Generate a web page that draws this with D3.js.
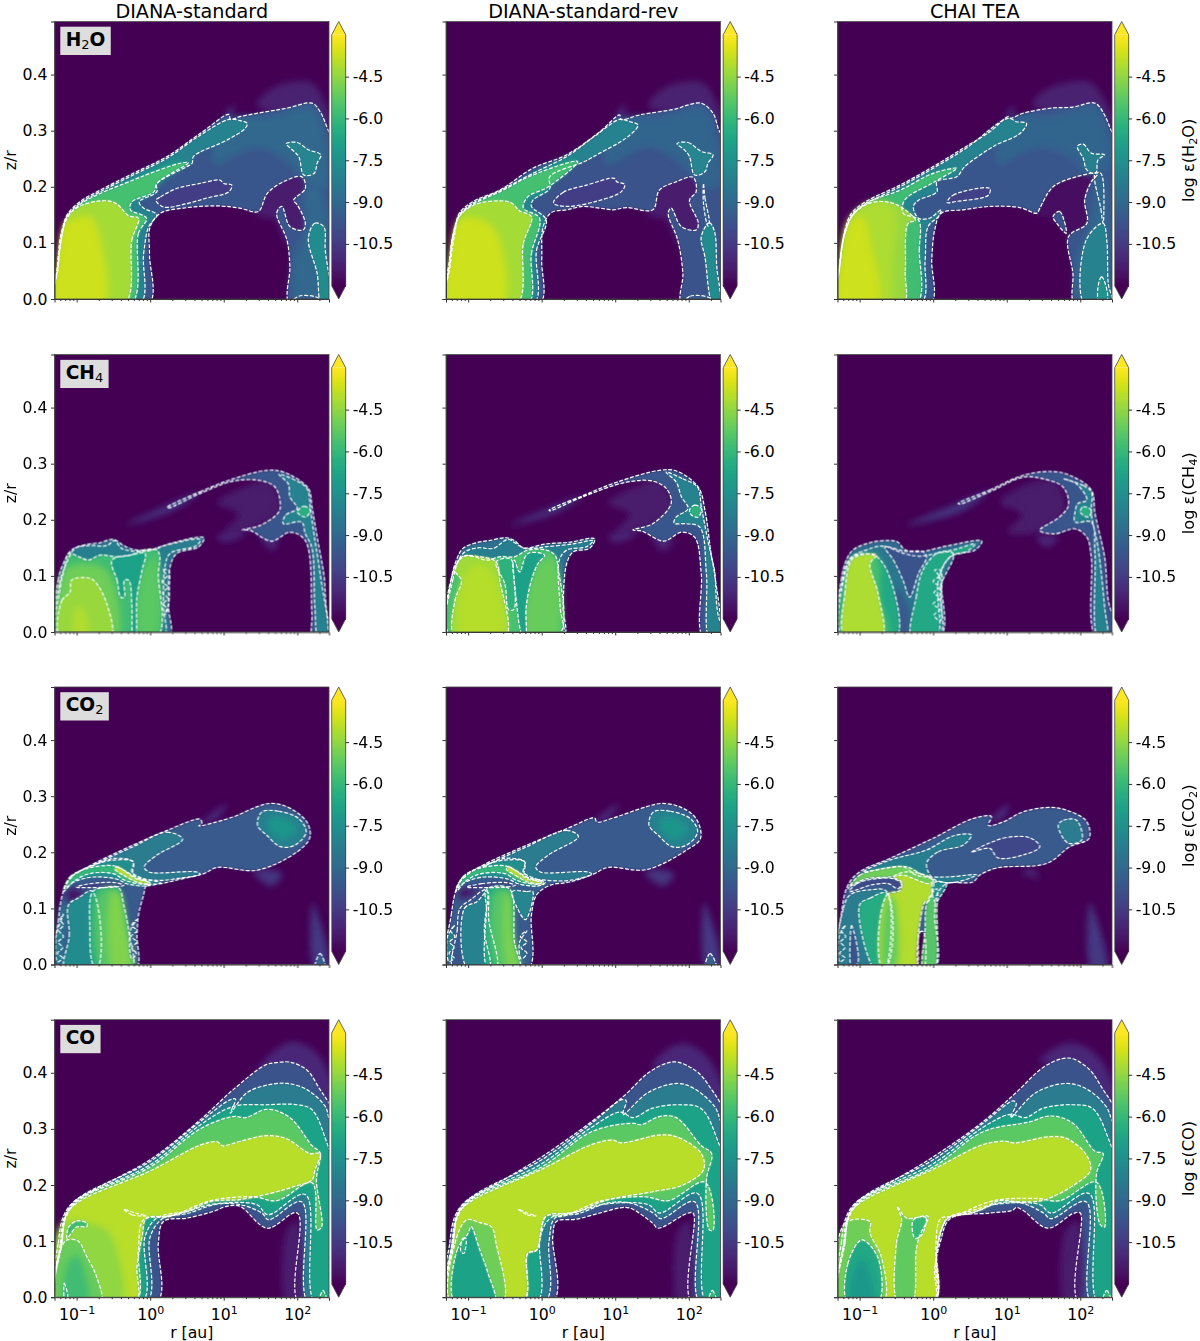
<!DOCTYPE html>
<meta charset="utf-8">
<title>Disk abundance maps</title>
<style>
body { margin: 0; background: #fff; }
text { font-family: "DejaVu Sans", sans-serif; fill: #000; }
.tick line, .domain { stroke: #333; }
.tick text { font-size: 15.7px; }
</style>
<body>
<div id="chart"></div>
<script src="https://cdn.jsdelivr.net/npm/d3@7"></script>
<script>

// labels
const networks = ["DIANA-standard", "DIANA-standard-rev", "CHAI TEA"];
const molecules = [["H", "2", "O"], ["CH", "4", ""], ["CO", "2", ""], ["CO", "", ""]];
const zTicks = [0, 0.1, 0.2, 0.3, 0.4];
const rTicks = [0.1, 1, 10, 100];
const rTickExp = ["\u22121", "0", "1", "2"];
const rMinor = [0.06, 0.07, 0.08, 0.09, 0.2, 0.3, 0.4, 0.5, 0.6, 0.7, 0.8, 0.9, 2, 3, 4, 5, 6, 7, 8, 9, 20, 30, 40, 50, 60, 70, 80, 90, 200];
const cbarTicks = [-4.5, -6.0, -7.5, -9.0, -10.5];

// each layer: [contour level or null, log eps shown inside, [[log10 r, z/r], ...]]
const h2oStandard = [
  [null, -11.2, [[1.45,.345],[1.6,.37],[1.85,.385],[2.2,.385],[2.38,.35],[2.55,.29],[2.3,.32],[1.8,.33]]],
  [null, -10.6, [[1.02,.325],[1.13,.345],[1.1,.32]]],
  [null, -11.3, [[1.45,.15],[1.6,.2],[2.1,.22],[2.15,.12],[1.85,.1],[1.7,.14]]],
  [-10, -9.6, [[-1.28,-.01],[-1.25,.058],[-1.2,.117],[-1.13,.15],[-.95,.174],[-.68,.194],[-.23,.224],[.23,.254],[.68,.295],[1.07,.329],[1.09,.32],[1.22,.325],[1.59,.334],[1.86,.34],[2.2,.349],[2.31,.334],[2.43,.298],[2.6,.25],[2.6,-.01],[1.9,-.01],[1.9,.058],[1.86,.105],[1.72,.153],[1.79,.165],[1.9,.129],[2.08,.123],[2.11,.135],[2,.168],[1.95,.176],[2.11,.197],[2.06,.218],[1.81,.209],[1.59,.188],[1.47,.156],[1.22,.162],[.91,.166],[.45,.162],[.14,.153],[0,.129],[-.01,.08],[-.02,-.01]]],
  [null, -9, [[.85,.27],[1.07,.32],[1.6,.325],[2.2,.34],[2.35,.3],[2.4,.2],[2.2,.2],[1.9,.24],[1.5,.27],[1.2,.26],[.9,.24]]],
  [null, -9, [[2.12,.2],[2.3,.2],[2.45,0],[2.45,-.01],[2,-.01],[1.95,.07],[2.1,.12]]],
  [-10, -10.4, [[.08,.176],[.14,.182],[.36,.197],[.68,.206],[.95,.212],[1,.206],[1.11,.203],[1.07,.191],[.77,.18],[.5,.17],[.18,.164]]],
  [-8, -8, [[-.14,-.01],[-.09,.08],[-.02,.129],[.09,.15],[-.09,.162],[-.15,.173],[.09,.191],[.09,.205],[.5,.236],[.57,.242],[.59,.254],[1.04,.283],[1.29,.304],[1.32,.313],[1.22,.318],[1.07,.32],[.68,.292],[.23,.251],[-.23,.221],[-.68,.191],[-.95,.171],[-1.13,.147],[-1.2,.114],[-1.25,.058],[-1.27,-.01]]],
  [null, -7, [[-.3,.2],[.1,.235],[.45,.245],[.1,.205],[-.15,.18]]],
  [-6, -5.7, [[-.26,-.01],[-.16,.117],[-.05,.144],[-.27,.159],[-.25,.173],[.05,.191],[.09,.206],[.52,.243],[.41,.242],[0,.224],[-.23,.212],[-.68,.188],[-.95,.169],[-1.13,.144],[-1.21,.105],[-1.26,.058],[-1.28,-.01]]],
  [-4, -4.2, [[-.35,-.01],[-.25,.105],[-.16,.144],[-.29,.148],[-.45,.169],[-.59,.175],[-.91,.168],[-1.11,.15],[-1.21,.117],[-1.26,.058],[-1.28,-.01]]],
  [null, -3.7, [[-1.27,-.01],[-1.24,.08],[-1.15,.135],[-1,.145],[-.8,.145],[-.65,.09],[-.63,-.01]]],
  [-8, -7.9, [[1.85,.277],[2,.279],[2.15,.266],[2.32,.257],[2.27,.242],[2.23,.224],[2.09,.221],[2.02,.254],[1.93,.266]]],
  [-8, -7.7, [[2.15,.108],[2.24,.135],[2.36,.129],[2.38,.087],[2.45,-.01],[2.33,-.01],[2.27,.046]]],
  [-8, -9.5, [[1.9,-.01],[2.02,.005],[2.3,.001],[2.33,-.01]]]
];
const h2oRev = [
  [null, -11.2, [[1.45,.345],[1.6,.37],[1.85,.385],[2.2,.385],[2.38,.35],[2.55,.29],[2.3,.32],[1.8,.33]]],
  [null, -10.6, [[1.02,.325],[1.13,.345],[1.1,.32]]],
  [null, -11.3, [[1.45,.15],[1.6,.2],[2.1,.22],[2.15,.12],[1.85,.1],[1.7,.14]]],
  [-10, -9.7, [[-1.28,-.01],[-1.25,.07],[-1.18,.123],[-1.12,.153],[-.93,.174],[-.57,.194],[-.12,.233],[.34,.257],[.79,.298],[1.06,.328],[1.08,.32],[1.33,.328],[1.83,.339],[1.97,.345],[2.17,.349],[2.33,.331],[2.42,.298],[2.6,.266],[2.6,-.01],[1.91,-.01],[1.92,.046],[1.85,.105],[1.72,.153],[1.76,.162],[1.9,.129],[2.1,.123],[2.13,.135],[2.01,.176],[2.1,.191],[2.06,.217],[1.83,.209],[1.6,.194],[1.51,.159],[1.15,.163],[.97,.159],[.79,.162],[.56,.165],[.34,.159],[.13,.154],[.02,.129],[0,.07],[-.03,-.01]]],
  [null, -9.1, [[.85,.27],[1.07,.32],[1.6,.325],[2.2,.34],[2.35,.3],[2.4,.2],[2.2,.2],[1.9,.24],[1.5,.27],[1.2,.26],[.9,.24]]],
  [-10, -10.4, [[.16,.171],[.29,.19],[.61,.203],[.99,.215],[1.02,.209],[1.13,.204],[1.08,.191],[.74,.174],[.34,.165]]],
  [-8, -8, [[-.11,-.01],[-.07,.087],[.06,.141],[-.14,.165],[-.12,.176],[.11,.197],[.11,.218],[.58,.245],[.79,.26],[1.17,.289],[1.31,.31],[1.2,.316],[1.06,.32],[.74,.292],[.34,.254],[-.12,.224],[-.57,.193],[-.93,.171],[-1.12,.15],[-1.18,.117],[-1.24,.064],[-1.27,-.01]]],
  [null, -7, [[-.3,.2],[.1,.235],[.45,.25],[.15,.21],[-.1,.185]]],
  [-6, -5.7, [[-.19,-.01],[-.14,.081],[-.03,.144],[-.25,.162],[-.19,.182],[.09,.2],[.49,.245],[-.12,.221],[-.57,.191],[-.93,.169],[-1.12,.148],[-1.21,.111],[-1.25,.058],[-1.28,-.01]]],
  [-4, -4.2, [[-.34,-.01],[-.25,.099],[-.14,.147],[-.3,.157],[-.41,.171],[-.57,.175],[-.91,.168],[-1.12,.147],[-1.21,.111],[-1.26,.058],[-1.28,-.01]]],
  [null, -3.7, [[-1.28,-.01],[-1.24,.08],[-1.12,.14],[-.95,.145],[-.72,.135],[-.56,.1],[-.53,-.01]]],
  [-8, -7.9, [[1.84,.277],[1.99,.279],[2.17,.263],[2.33,.257],[2.26,.242],[2.22,.227],[2.08,.221],[2.01,.254],[1.94,.266]]],
  [-8, -7.7, [[2.17,.111],[2.28,.136],[2.35,.12],[2.38,.058],[2.42,-.01],[2.33,-.01],[2.22,.075]]],
  [-8, -9, [[2.2,.206],[2.22,.18],[2.28,.136],[2.26,.13],[2.2,.17]]],
  [-8, -9.5, [[1.91,-.01],[2.02,.005],[2.3,.001],[2.33,-.01]]]
];
const h2oChai = [
  [null, -11.2, [[1.35,.345],[1.5,.37],[1.8,.385],[2.15,.385],[2.35,.35],[2.55,.29],[2.3,.32],[1.8,.33]]],
  [null, -10.6, [[1,.325],[1.1,.345],[1.06,.32]]],
  [null, -11.7, [[1.4,.15],[1.6,.2],[2.2,.225],[2.15,.12],[1.85,.1],[1.7,.14]]],
  [-10, -9.6, [[-1.29,-.01],[-1.26,.07],[-1.2,.123],[-1.11,.153],[-.91,.174],[-.45,.203],[0,.236],[.45,.272],[.77,.298],[1.02,.325],[1.05,.322],[1.22,.331],[1.59,.34],[1.9,.342],[2.2,.349],[2.33,.328],[2.43,.298],[2.6,.26],[2.6,-.01],[1.93,-.01],[1.9,.046],[1.84,.111],[2.09,.135],[2.06,.176],[2.15,.209],[2.24,.224],[1.95,.218],[1.63,.2],[1.45,.162],[1.41,.153],[1.18,.163],[.77,.165],[.41,.159],[.11,.153],[.02,.123],[-.02,.07],[-.04,-.01]]],
  [null, -9.1, [[.85,.27],[1.07,.32],[1.6,.325],[2.2,.34],[2.35,.3],[2.4,.24],[2.1,.22],[1.9,.25],[1.5,.27],[1.2,.26],[.9,.24]]],
  [null, -9, [[2.1,.12],[2.3,.22],[2.45,0],[2.45,-.01],[2,-.01],[1.95,.07]]],
  [-10, -9.7, [[1.63,.147],[1.72,.156],[1.81,.117],[1.68,.135]]],
  [-10, -10.3, [[.19,.172],[.27,.185],[.77,.197],[.75,.185],[.32,.174]]],
  [-8, -8, [[-.17,-.01],[-.11,.07],[-.07,.129],[.07,.147],[.11,.159],[-.05,.144],[-.2,.144],[-.27,.165],[-.2,.176],[.05,.191],[.05,.209],[.32,.218],[.43,.236],[.82,.272],[1.18,.295],[1.27,.313],[1.13,.316],[1.02,.322],[.45,.269],[0,.233],[-.45,.2],[-.91,.17],[-1.09,.152],[-1.2,.12],[-1.27,.065],[-1.29,-.01]]],
  [-6, -5.8, [[-.23,-.01],[-.19,.087],[-.2,.141],[-.41,.153],[-.39,.176],[.02,.209],[.32,.233],[0,.224],[-.45,.194],[-.91,.171],[-1.09,.15],[-1.2,.117],[-1.27,.058],[-1.28,-.01]]],
  [-4, -4.4, [[-.41,-.01],[-.38,.05],[-.34,.135],[-.24,.14],[-.45,.165],[-.63,.173],[-.86,.171],[-1.09,.15],[-1.2,.117],[-1.27,.058],[-1.29,-.01]]],
  [null, -4.1, [[-1.28,-.01],[-1.27,.058],[-1.2,.117],[-1.09,.15],[-.86,.171],[-.63,.173],[-.5,.15],[-.55,.06],[-.6,-.01]]],
  [null, -3.7, [[-1.28,-.01],[-1.24,.08],[-1.12,.14],[-.95,.145],[-.85,.1],[-.75,-.01]]],
  [-8, -8.1, [[1.96,.272],[2.04,.276],[2.15,.26],[2.33,.257],[2.24,.248],[2.21,.224],[2.09,.23],[2.04,.251]]],
  [-8, -8, [[2.08,.105],[2.31,.135],[2.36,.105],[2.38,.028],[2.43,-.01],[2.06,-.01]]],
  [-8, -9, [[2.2,.224],[2.28,.16],[2.31,.135],[2.32,.15],[2.28,.224]]],
  [-6, -7.4, [[2.24,.02],[2.29,.04],[2.37,.01],[2.35,-.01],[2.26,-.01]]]
];

const ch4Standard = [
  [null, -10.5, [[-.34,.191],[.23,.226],[.68,.25],[.32,.217]]],
  [null, -11.4, [[.9,.23],[1.3,.26],[1.6,.27],[1.78,.22],[1.4,.185],[1,.178],[1.2,.21]]],
  [null, -11, [[.9,.17],[1.2,.18],[1.3,.175],[1,.16]]],
  [null, -11, [[1.5,.17],[1.65,.145],[1.75,.165]]],
  [-10, -8.6, [[-1.27,-.01],[-1.25,.092],[-1.18,.122],[-1.07,.146],[-.86,.156],[-.68,.159],[-.5,.165],[-.36,.154],[-.23,.147],[.05,.147],[.23,.156],[.73,.168],[.66,.152],[.36,.14],[.27,.116],[.25,.045],[.25,-.01]]],
  [-8, -8.2, [[-1.26,-.01],[-1.23,.086],[-1.16,.116],[-1.02,.149],[-.84,.154],[-.59,.154],[-.48,.163],[-.39,.149],[-.05,.144],[.14,.152],[.68,.165],[.63,.154],[.27,.14],[.2,.116],[.18,.045],[.18,-.01]]],
  [-8, -8.5, [[.17,.11],[.23,.1],[.16,.09],[.24,.08],[.17,.07],[.24,.06],[.18,.05],[.24,.04],[.19,.03],[.25,.05],[.26,.08],[.25,.11]]],
  [-6, -5.8, [[-1.24,-.01],[-1.22,.08],[-1.16,.116],[-1.11,.14],[-.97,.134],[-.84,.128],[-.68,.137],[-.45,.134],[-.27,.137],[-.09,.146],[.09,.146],[.13,.135],[.11,.104],[.09,-.01]]],
  [null, -5, [[-1.22,-.01],[-1.16,.11],[-.91,.122],[-.59,.11],[-.45,-.01]]],
  [null, -5.3, [[-.16,-.01],[-.11,.104],[.07,.134],[.09,-.01]]],
  [-6, -6.8, [[-.52,.128],[-.45,.092],[-.4,.062],[-.35,.062],[-.35,.092],[-.29,.092],[-.25,.05],[-.23,-.01],[-.2,-.01],[-.18,.062],[-.11,.11],[-.07,.14],[-.27,.137]]],
  [-4, -4.4, [[-1.22,-.01],[-1.2,.056],[-1.09,.071],[-1.07,.092],[-.91,.097],[-.77,.092],[-.59,.05],[-.54,-.01]]],
  [null, -4.05, [[-1.02,-.01],[-1.02,.04],[-.93,.045],[-.85,-.01]]],
  [-10, -9.6, [[.23,.222],[.68,.25],[1.13,.273],[1.59,.288],[1.81,.285],[2.15,.256],[2.2,.223],[2.27,.169],[2.36,.104],[2.43,.021],[2.6,-.01],[2.22,-.01],[2.2,.033],[2.11,.163],[1.9,.178],[1.65,.162],[1.36,.181],[1.25,.182],[1.5,.19],[1.75,.214],[1.77,.229],[1.7,.258],[1.5,.27],[1.13,.269],[.68,.247],[.25,.221]]],
  [-8, -8, [[1.75,.281],[1.93,.273],[2.13,.256],[2.18,.217],[2.24,.163],[2.31,.104],[2.4,-.01],[2.29,-.01],[2.24,.045],[2.2,.15],[2.11,.175],[2.06,.196],[1.81,.193],[1.84,.208],[2,.22],[1.9,.241],[1.88,.264]]],
  [-6, -6.3, [[2,.214],[2.09,.224],[2.18,.217],[2.11,.205]]]
];
const ch4Rev = [
  [null, -10.5, [[-.42,.191],[.1,.22],[.56,.243],[.2,.213]]],
  [null, -11.4, [[.9,.23],[1.3,.26],[1.6,.27],[1.78,.22],[1.4,.185],[1,.178],[1.2,.21]]],
  [null, -11, [[.9,.17],[1.2,.18],[1.3,.175],[1,.16]]],
  [null, -11, [[1.5,.17],[1.66,.145],[1.78,.165]]],
  [-10, -8.8, [[-1.26,-.01],[-1.23,.092],[-1.16,.128],[-1.07,.149],[-.89,.159],[-.71,.163],[-.48,.168],[-.37,.163],[-.25,.15],[.06,.157],[.38,.16],[.72,.166],[.65,.149],[.43,.143],[.34,.122],[.29,.045],[.29,-.01]]],
  [-8, -8.2, [[-1.25,-.01],[-1.21,.092],[-1.07,.14],[-.87,.15],[-.66,.149],[-.46,.165],[-.34,.157],[-.23,.149],[.06,.152],[.43,.157],[.7,.163],[.61,.152],[.34,.146],[.24,.128],[.25,.045],[.27,-.01]]],
  [-6, -5.6, [[-1.23,-.01],[-1.21,.104],[-1.07,.135],[-.91,.134],[-.75,.128],[-.57,.134],[-.37,.134],[-.19,.146],[.06,.146],[.18,.137],[.22,.116],[.22,-.01]]],
  [null, -5.1, [[-.21,-.01],[-.14,.092],[0,.128],[.15,.134],[.2,-.01]]],
  [-6, -6.9, [[-.37,.128],[-.39,.122],[-.37,.086],[-.34,.05],[-.3,.009],[-.25,-.01],[-.22,-.01],[-.21,.045],[-.14,.092],[-.05,.122],[.04,.137],[-.19,.14],[-.3,.107]]],
  [-6, -6.2, [[-.62,.125],[-.5,.085],[-.45,.04],[-.38,.04],[-.38,.1],[-.42,.13]]],
  [-4, -4.3, [[-1.18,-.01],[-1.18,.056],[-1.09,.092],[-1.18,.11],[-1.07,.134],[-.84,.134],[-.62,.125],[-.57,.092],[-.49,-.01]]],
  [null, -4, [[-1.08,-.01],[-1.05,.1],[-.85,.12],[-.65,.1],[-.55,-.01]]],
  [-10, -9.6, [[.1,.217],[.56,.243],[1.02,.267],[1.6,.288],[1.83,.287],[2.13,.258],[2.22,.217],[2.31,.134],[2.35,.11],[2.42,.021],[2.6,-.01],[2.2,-.01],[2.17,.104],[2.08,.169],[1.9,.178],[1.66,.162],[1.36,.18],[1.24,.182],[1.51,.193],[1.76,.229],[1.7,.255],[1.51,.269],[1.15,.267],[.56,.241],[.11,.216]]],
  [-8, -8, [[1.69,.285],[1.92,.273],[2.12,.258],[2.17,.223],[2.26,.163],[2.35,.104],[2.41,-.01],[2.28,-.01],[2.24,.104],[2.15,.187],[1.97,.193],[1.8,.194],[1.83,.205],[1.99,.22],[1.9,.241],[1.83,.267]]],
  [-6, -6.2, [[2.01,.217],[2.08,.226],[2.17,.22],[2.13,.205],[2.04,.208]]]
];
const ch4Chai = [
  [null, -10.5, [[-.36,.191],[.34,.23],[.77,.253],[.42,.217]]],
  [null, -11.4, [[.9,.23],[1.3,.265],[1.65,.27],[1.8,.22],[1.5,.18],[1,.178],[1.2,.21]]],
  [null, -11, [[1.4,.17],[1.55,.15],[1.7,.17]]],
  [-10, -8.9, [[-1.28,-.01],[-1.25,.092],[-1.18,.128],[-1.09,.146],[-.86,.159],[-.61,.163],[-.48,.16],[-.39,.147],[-.18,.143],[.18,.153],[.66,.162],[.57,.146],[.27,.137],[.11,.11],[.09,-.01]]],
  [-8, -8.4, [[-1.27,-.01],[-1.23,.092],[-1.13,.131],[-.91,.146],[-.68,.153],[-.4,.14],[-.2,.135],[.27,.14],[.1,.08],[.07,-.01]]],
  [-10, -9.7, [[-.66,.152],[-.54,.128],[-.41,.092],[-.32,.062],[-.2,.104],[-.09,.134],[-.14,.143],[-.39,.144]]],
  [null, -9.5, [[-.55,-.01],[-.5,.08],[-.35,.05],[-.3,-.01]]],
  [-6, -6.6, [[-.29,-.01],[-.23,.062],[-.14,.11],[.05,.14],[.27,.146],[.57,.157],[.45,.143],[.23,.134],[.07,.092],[.05,-.01]]],
  [-8, -7, [[.02,.11],[.08,.1],[0,.09],[.09,.08],[.01,.07],[.09,.06],[0,.05],[.09,.04],[.01,.03],[.1,.02],[.11,.06],[.1,.11]]],
  [-6, -6.6, [[-1.23,-.01],[-1.22,.092],[-1.09,.134],[-.81,.137],[-.63,.11],[-.5,-.01]]],
  [null, -5.6, [[-1.2,-.01],[-1.2,.09],[-1.09,.132],[-.77,.135],[-.72,.06],[-.62,-.01]]],
  [-4, -4.1, [[-1.2,-.01],[-1.2,.068],[-1.09,.131],[-.77,.137],[-.86,.122],[-.75,.068],[-.7,-.01]]],
  [-10, -9.6, [[.34,.229],[.77,.253],[1.22,.279],[1.61,.286],[1.86,.279],[2.15,.253],[2.2,.211],[2.33,.134],[2.4,.045],[2.6,-.01],[2.22,-.01],[2.15,.134],[2.09,.169],[1.93,.184],[1.65,.175],[1.45,.181],[1.72,.205],[1.84,.226],[1.77,.258],[1.5,.273],[1.22,.276],[.77,.25],[.36,.228]]],
  [-8, -8, [[1.77,.273],[2.04,.261],[2.15,.25],[2.15,.211],[2.24,.152],[2.33,.045],[2.36,-.01],[2.24,-.01],[2.2,.14],[2.15,.196],[1.93,.196],[1.93,.214],[1.97,.229],[2.09,.235],[1.95,.264]]],
  [-6, -6.3, [[2,.214],[2.04,.223],[2.15,.217],[2.11,.205]]]
];

const co2Standard = [
  [null, -10.8, [[.68,.25],[.95,.28],[1.05,.285],[.9,.26]]],
  [null, -10.6, [[1.4,.165],[1.65,.14],[1.8,.16],[1.6,.17]]],
  [null, -10.5, [[2.21,.11],[2.43,-.01],[2.24,-.01]]],
  [-10, -9.5, [[-1.29,-.01],[-1.25,.076],[-1.18,.13],[-1.07,.156],[-.82,.176],[-.23,.213],[.23,.239],[.68,.259],[.7,.251],[.66,.247],[1.13,.263],[1.45,.281],[1.63,.287],[1.86,.281],[2.13,.254],[2.17,.226],[2,.201],[1.45,.168],[.91,.173],[.73,.162],[.41,.152],[.14,.144],[-.05,.141],[-.09,.124],[-.16,.088],[-.18,.052],[-.2,-.01]]],
  [-8, -8.3, [[-.23,.21],[.23,.236],[.44,.223],[.09,.195],[-.08,.174],[-.02,.165],[.63,.165],[.68,.161],[.41,.154],[.09,.15],[-.23,.159],[-.23,.183],[-.5,.189],[-.82,.174]]],
  [-8, -7.6, [[-1.16,.135],[-1.07,.156],[-.77,.177],[-.5,.186],[-.23,.183],[-.25,.165],[-.09,.153],[.14,.146],[-.05,.14],[-.32,.144],[-.45,.152],[-.77,.156],[-1.04,.147]]],
  [-6, -6, [[-1.18,.13],[-1.09,.156],[-.86,.171],[-.5,.176],[-.36,.168],[-.16,.153],[0,.146],[-.09,.143],[-.34,.15],[-.5,.162],[-.82,.162],[-1.02,.15]]],
  [-4, -3.9, [[-.48,.17],[-.36,.159],[-.16,.146],[-.02,.144],[-.05,.149],[-.18,.152],[-.34,.166],[-.45,.174]]],
  [-10, -10.3, [[-1,.138],[-.82,.144],[-.48,.146],[-.36,.141],[-.5,.138],[-.82,.137]]],
  [null, -11.6, [[-1.13,.133],[-.95,.133],[-.88,.13],[-.97,.118],[-1.11,.112]]],
  [null, -8.2, [[-1.27,-.01],[-1.25,.07],[-1.2,.11],[-1.16,.1],[-1.2,.03],[-1.22,-.01]]],
  [-8, -8.2, [[-1.26,.005],[-1.19,.012],[-1.26,.02],[-1.19,.03],[-1.25,.04],[-1.18,.05],[-1.24,.06],[-1.18,.07],[-1.22,.08],[-1.18,.09],[-1.28,.05]]],
  [-8, -7.7, [[-1.16,-.01],[-1.1,.052],[-1.11,.106],[-.97,.119],[-.79,.131],[-.73,-.01]]],
  [-6, -6.5, [[-.73,-.01],[-.82,.07],[-.78,.13],[-.63,.137],[-.43,.137],[-.36,.106],[-.29,.058],[-.25,-.01]]],
  [null, -5.4, [[-.66,-.01],[-.7,.13],[-.46,.135],[-.35,.06],[-.27,-.01]]],
  [null, -4.7, [[-.5,-.01],[-.52,.13],[-.44,.13],[-.31,.06],[-.26,-.01]]],
  [-8, -8.8, [[-.25,.01],[-.19,.02],[-.25,.03],[-.18,.04],[-.26,.05],[-.18,.06],[-.25,.07],[-.18,.08],[-.27,.06]]],
  [-8, -8.1, [[1.52,.272],[1.75,.273],[2.02,.26],[2.12,.236],[1.97,.213],[1.77,.21],[1.59,.23],[1.46,.248]]],
  [null, -7.3, [[1.62,.26],[1.85,.26],[2,.24],[1.8,.222],[1.62,.24]]],
  [-10, -9.3, [[2.24,-.01],[2.31,.02],[2.38,-.01]]]
];
const co2Rev = [
  [null, -10.8, [[.68,.25],[.95,.28],[1.05,.285],[.9,.26]]],
  [null, -10.6, [[1.4,.165],[1.65,.14],[1.8,.16],[1.6,.17]]],
  [null, -10.5, [[2.21,.11],[2.43,-.01],[2.24,-.01]]],
  [-10, -9.5, [[-1.27,-.01],[-1.23,.088],[-1.14,.141],[-1.02,.159],[-.8,.177],[-.25,.21],[.34,.242],[.72,.261],[.75,.254],[.97,.261],[1.42,.281],[1.63,.287],[1.88,.281],[2.1,.26],[2.16,.225],[1.97,.204],[1.42,.169],[.9,.173],[.7,.161],[.38,.147],[.11,.141],[-.07,.124],[-.14,.088],[-.19,-.01]]],
  [-8, -8.3, [[-.25,.207],[.34,.239],[.5,.228],[.09,.195],[-.08,.174],[-.02,.165],[.63,.165],[.68,.161],[.38,.15],[.09,.15],[-.23,.159],[-.23,.183],[-.5,.189],[-.8,.174]]],
  [-8, -7.6, [[-1.16,.135],[-1.07,.156],[-.77,.177],[-.5,.186],[-.23,.183],[-.25,.165],[-.09,.153],[.05,.146],[-.05,.14],[-.32,.144],[-.45,.152],[-.77,.156],[-1.04,.147]]],
  [-6, -6, [[-1.16,.13],[-1.07,.156],[-.86,.171],[-.5,.176],[-.36,.168],[-.16,.153],[0,.146],[-.09,.143],[-.34,.15],[-.5,.162],[-.82,.162],[-1.02,.15]]],
  [-4, -3.9, [[-.48,.17],[-.36,.159],[-.16,.146],[.03,.144],[-.02,.149],[-.18,.152],[-.34,.166],[-.45,.174]]],
  [-10, -10.3, [[-1.02,.138],[-.82,.144],[-.48,.146],[-.36,.141],[-.5,.138],[-.82,.137]]],
  [null, -11.6, [[-1.13,.133],[-.9,.134],[-.84,.13],[-.97,.122],[-1.11,.118]]],
  [-10, -9.6, [[-1.2,-.01],[-1.15,.06],[-1.11,.1],[-.97,.115],[-.75,.133],[-.78,.06],[-.72,-.01]]],
  [-8, -8.2, [[-1.26,.005],[-1.19,.012],[-1.26,.02],[-1.19,.03],[-1.25,.04],[-1.18,.05],[-1.24,.06],[-1.18,.07],[-1.28,.05]]],
  [-8, -8, [[-1,-.01],[-1.05,.1],[-.88,.112],[-.74,.13],[-.72,.08],[-.62,-.01]]],
  [-6, -6.5, [[-.72,-.01],[-.75,.1],[-.75,.134],[-.44,.135],[-.37,.04],[-.3,-.01]]],
  [null, -5.4, [[-.6,-.01],[-.65,.13],[-.46,.132],[-.4,.05],[-.33,-.01]]],
  [null, -4.8, [[-.45,-.01],[-.5,.125],[-.45,.13],[-.38,.05],[-.31,-.01]]],
  [-8, -7.9, [[-.4,.13],[-.2,.13],[-.12,.13],[-.22,.08],[-.33,.1]]],
  [-8, -8.8, [[-.28,.01],[-.2,.02],[-.28,.03],[-.2,.04],[-.29,.05],[-.2,.06],[-.3,.04]]],
  [-8, -8.1, [[1.52,.272],[1.75,.273],[2.02,.26],[2.12,.236],[1.97,.213],[1.77,.21],[1.59,.23],[1.46,.248]]],
  [null, -7.3, [[1.62,.26],[1.85,.26],[2,.24],[1.8,.222],[1.62,.24]]],
  [-10, -9.3, [[2.22,-.01],[2.29,.02],[2.38,-.01]]]
];
const co2Chai = [
  [null, -10.8, [[.75,.255],[.95,.28],[1.03,.285],[.95,.26]]],
  [null, -10.8, [[1.2,.163],[1.4,.155],[1.45,.15],[1.35,.17]]],
  [null, -10.5, [[2.13,.11],[2.36,-.01],[2.15,-.01]]],
  [-10, -9.5, [[-1.29,-.01],[-1.25,.088],[-1.16,.141],[-1,.165],[-.59,.189],[0,.225],[.54,.26],[.79,.264],[.75,.248],[.95,.254],[1.22,.272],[1.59,.28],[1.81,.275],[2.08,.256],[2.12,.225],[1.86,.21],[1.54,.18],[.86,.172],[.63,.159],[.54,.147],[.18,.144],[.05,.124],[.02,.088],[.01,-.01]]],
  [-8, -8.2, [[-.09,.18],[.07,.201],[.41,.213],[.52,.231],[.27,.229],[-.09,.204],[-.59,.186],[-.95,.165],[-.41,.174],[-.23,.159],[.18,.156],[.59,.16],[.27,.146],[0,.153]]],
  [-8, -8.3, [[-1.27,-.01],[-1.22,.1],[-1.13,.124],[-.86,.133],[-.63,.13],[-.66,-.01]]],
  [-10, -9.7, [[-1.11,-.01],[-1.11,.07],[-1.02,.005]]],
  [-8, -8.4, [[-1.27,.005],[-1.2,.012],[-1.27,.02],[-1.2,.03],[-1.26,.04],[-1.19,.05],[-1.25,.06],[-1.19,.07],[-1.28,.05]]],
  [-6, -6.5, [[-1,.106],[-.86,.118],[-.63,.127],[-.66,-.01],[-.79,-.01]]],
  [-4, -4.05, [[-.68,-.01],[-.63,.124],[-.45,.132],[-.43,.147],[-.54,.156],[-.36,.165],[0,.15],[-.07,.112],[-.11,.112],[-.2,.058],[-.25,-.01]]],
  [null, -5.2, [[-.67,-.01],[-.62,.12],[-.55,.12],[-.52,-.01]]],
  [-6, -5, [[-1.16,.135],[-1,.159],[-.68,.171],[-.36,.174],[-.14,.159],[0,.15],[-.05,.144],[-.41,.159],[-.59,.156],[-.9,.153],[-1.11,.141]]],
  [-8, -10, [[-1.14,.13],[-1.04,.144],[-.82,.152],[-.54,.153],[-.43,.144],[-.48,.135],[-.61,.144],[-.86,.141],[-1.04,.133]]],
  [-10, -12, [[-.19,-.01],[-.18,.058],[-.13,.058],[-.13,-.01]]],
  [-6, -5.4, [[-.13,-.01],[-.11,.058],[-.08,.112],[.05,.135],[.05,.1],[.01,-.01]]],
  [-8, -7.6, [[-.01,.145],[.18,.144],[.09,.12],[.03,.11]]],
  [-10, -10.1, [[.52,.2],[.95,.225],[1.31,.226],[1.45,.21],[1.22,.195],[.88,.19],[.77,.207]]],
  [-8, -8.3, [[1.7,.248],[1.77,.257],[1.95,.257],[2.02,.222],[1.84,.216]]]
];

const coStandard = [
  [null, -11, [[1.45,.4],[1.7,.44],[1.95,.455],[2.3,.43],[2.55,.33],[2.3,.36],[1.8,.41]]],
  [-10, -9.7, [[-1.29,-.01],[-1.25,.096],[-1.18,.144],[-1.04,.17],[-.68,.197],[0,.245],[.68,.316],[1.13,.37],[1.57,.414],[1.72,.418],[1.9,.419],[2.13,.405],[2.31,.37],[2.43,.346],[2.6,.3],[2.6,-.01],[2.02,-.01],[2,.15],[1.59,.123],[1.22,.162],[1.04,.162],[.86,.153],[.5,.141],[.18,.135],[.11,.096],[.09,-.01]]],
  [null, -11.3, [[1.86,-.02],[1.86,.12],[2,.135],[2.03,-.02]]],
  [-8, -8.3, [[-1.27,-.01],[-1.22,.096],[-1.16,.144],[-1,.174],[0,.242],[.68,.313],[1.09,.352],[1.16,.353],[1.09,.328],[1.31,.364],[1.59,.378],[1.86,.381],[2.13,.37],[2.38,.34],[2.43,.319],[2.6,.25],[2.6,-.01],[2.15,-.01],[2.06,.17],[1.61,.138],[1.52,.15],[1.22,.165],[.91,.166],[.5,.149],[.18,.141],[0,.108],[-.05,-.01]]],
  [-6, -6.8, [[-1.27,-.01],[-1.21,.096],[-1.15,.144],[-.98,.174],[0,.236],[.68,.307],[1.13,.34],[1.59,.343],[2,.343],[2.2,.334],[2.42,.269],[2.6,.2],[2.6,-.01],[2.24,-.01],[2.11,.183],[1.6,.147],[1.45,.165],[.86,.166],[.5,.153],[.09,.141],[-.07,.108],[-.11,-.01]]],
  [-5, -5.3, [[-1.26,-.01],[-1.2,.096],[-1.14,.144],[-.96,.174],[0,.232],[.68,.3],[1.13,.322],[1.3,.32],[1.59,.335],[1.9,.32],[2.2,.27],[2.31,.257],[2.26,.21],[2.33,.125],[2.27,.12],[2.2,.204],[1.72,.172],[1.41,.179],[.82,.172],[.27,.144],[-.09,.138],[-.16,.084],[-.2,-.01]]],
  [-4, -3.95, [[-1.26,-.01],[-1.2,.1],[-1.13,.15],[-.95,.172],[0,.225],[.68,.271],[.91,.277],[.98,.27],[1.23,.278],[1.59,.288],[1.86,.282],[2.17,.256],[2.31,.256],[2.24,.227],[2.2,.209],[1.95,.197],[1.72,.188],[1.22,.174],[.84,.171],[.5,.153],[.23,.144],[-.05,.141],[-.11,.108],[-.18,.055],[-.2,-.01]]],
  [null, -4.5, [[-1.25,-.01],[-1.2,.13],[-.6,.12],[-.45,.08],[-.4,-.01]]],
  [-5, -5.1, [[-1.25,-.01],[-1.22,.084],[-1.13,.102],[-.98,.1],[-.86,.072],[-.73,.037],[-.67,-.01]]],
  [null, -5.8, [[-1.15,-.01],[-1.12,.06],[-1,.075],[-.88,.04],[-.85,-.01]]],
  [-6, -6.2, [[-1.16,-.01],[-1.17,.025],[-1.12,0]]],
  [-6, -5.9, [[-1.11,.125],[-1,.136],[-.86,.132],[-.86,.126],[-1,.125],[-1.13,.105],[-1.13,.115]]],
  [-4, -4, [[-.36,.157],[-.25,.147],[-.05,.145],[-.2,.15]]],
  [-6, -5.9, [[2.3,-.01],[2.35,.012],[2.4,-.01]]]
];
const coRev = [
  [null, -11, [[1.5,.41],[1.75,.445],[2,.45],[2.3,.42],[2.55,.33],[2.3,.36],[1.8,.41]]],
  [-10, -9.7, [[-1.29,-.01],[-1.25,.096],[-1.18,.144],[-1.04,.17],[-.68,.197],[0,.25],[.68,.313],[1.13,.36],[1.45,.4],[1.7,.417],[1.85,.419],[2.13,.4],[2.31,.37],[2.43,.346],[2.6,.3],[2.6,-.01],[2.04,-.01],[2.06,.15],[1.97,.149],[1.58,.123],[1.51,.132],[1.2,.159],[1.06,.159],[.79,.15],[.47,.139],[.2,.135],[.15,.108],[.15,-.01]]],
  [null, -11.3, [[1.86,-.02],[1.86,.12],[2,.135],[2.03,-.02]]],
  [-8, -8.3, [[-1.27,-.01],[-1.22,.096],[-1.16,.144],[-1,.174],[0,.245],[.68,.31],[1.09,.352],[1.15,.35],[1.1,.325],[1.45,.365],[1.85,.381],[2.07,.372],[2.35,.34],[2.43,.315],[2.6,.25],[2.6,-.01],[2.15,-.01],[2.08,.17],[1.62,.14],[1.52,.15],[1.2,.168],[.9,.168],[.5,.149],[.18,.141],[.1,.1],[.04,-.01]]],
  [-6, -6.8, [[-1.27,-.01],[-1.21,.096],[-1.15,.144],[-.98,.174],[0,.238],[.68,.303],[1.07,.33],[1.24,.32],[1.51,.337],[1.87,.343],[2.17,.336],[2.42,.27],[2.6,.2],[2.6,-.01],[2.24,-.01],[2.12,.185],[1.6,.15],[1.45,.165],[.86,.166],[.5,.153],[.12,.141],[-.02,.108],[-.07,-.01]]],
  [-5, -5.3, [[-1.26,-.01],[-1.2,.096],[-1.14,.144],[-.96,.174],[0,.232],[.68,.295],[1.25,.31],[1.35,.307],[1.6,.322],[1.83,.32],[2.17,.27],[2.31,.256],[2.24,.21],[2.28,.12],[2.33,.12],[2.22,.205],[1.72,.172],[1.41,.179],[.82,.172],[.27,.144],[.06,.145],[-.07,.084],[-.19,.078],[-.25,-.01]]],
  [-4, -3.95, [[-1.26,-.01],[-1.2,.1],[-1.13,.15],[-.95,.172],[0,.228],[.68,.272],[.97,.28],[1.08,.275],[1.6,.289],[1.83,.286],[2.17,.256],[2.2,.227],[1.92,.2],[1.51,.188],[.88,.173],[.43,.15],[.06,.144],[-.07,.084],[-.19,.078],[-.25,-.01]]],
  [-5, -5, [[-1.23,-.01],[-1.18,.096],[-1.02,.138],[-.84,.133],[-.68,.125],[-.62,.096],[-.53,-.01]]],
  [-7, -6.8, [[-1.18,-.01],[-1.15,.084],[-1,.114],[-.96,.126],[-.84,.084],[-.73,.043],[-.64,-.01]]],
  [-6, -6.2, [[-1.1,.082],[-1.07,.105],[-1.03,.105],[-1.06,.078]]],
  [-4, -4, [[-.32,.157],[-.2,.147],[-.08,.145],[-.2,.15]]],
  [-6, -5.9, [[2.27,-.01],[2.32,.012],[2.38,-.01]]]
];
const coChai = [
  [null, -11, [[1.45,.42],[1.75,.45],[2,.45],[2.3,.42],[2.55,.33],[2.3,.36],[1.8,.41]]],
  [-10, -9.7, [[-1.29,-.01],[-1.25,.096],[-1.18,.144],[-1.04,.17],[-.68,.197],[0,.25],[.68,.313],[1.13,.365],[1.5,.41],[1.75,.425],[1.9,.425],[2.13,.405],[2.31,.37],[2.43,.346],[2.6,.3],[2.6,-.01],[1.98,-.01],[2,.15],[1.9,.149],[1.56,.123],[1.22,.155],[1.13,.16],[1.08,.155],[.77,.15],[.23,.14],[.1,.1],[.02,.05],[0,-.01]]],
  [null, -11.3, [[1.8,-.02],[1.8,.12],[1.96,.135],[1.98,-.02]]],
  [-8, -8.3, [[-1.27,-.01],[-1.22,.096],[-1.16,.144],[-1,.174],[0,.245],[.68,.31],[1.09,.35],[1.13,.345],[1.05,.32],[1.4,.365],[1.82,.381],[2.1,.37],[2.35,.34],[2.43,.315],[2.6,.25],[2.6,-.01],[2.15,-.01],[2.08,.17],[1.6,.14],[1.5,.15],[1.2,.168],[.9,.168],[.5,.149],[.2,.141],[.05,.08],[.01,-.01]]],
  [-6, -6.8, [[-1.27,-.01],[-1.21,.096],[-1.15,.144],[-.98,.174],[0,.238],[.68,.303],[1.05,.326],[1.25,.32],[1.5,.337],[1.9,.343],[2.17,.336],[2.42,.27],[2.6,.2],[2.6,-.01],[2.24,-.01],[2.12,.185],[1.6,.15],[1.45,.165],[.86,.166],[.5,.153],[.2,.141],[.04,.08],[.01,-.01]]],
  [-5, -5.3, [[-1.26,-.01],[-1.2,.096],[-1.14,.144],[-.96,.174],[0,.232],[.68,.295],[1.3,.312],[1.6,.323],[1.9,.31],[2.2,.26],[2.31,.256],[2.22,.22],[2.27,.13],[2.33,.125],[2.22,.205],[1.72,.172],[1.41,.176],[.82,.172],[.27,.144],[.1,.14],[.03,.06],[.01,-.01]]],
  [-4, -3.95, [[-1.26,-.01],[-1.2,.1],[-1.13,.15],[-.95,.172],[0,.228],[.68,.272],[.98,.278],[1.1,.275],[1.59,.286],[1.81,.283],[2.07,.256],[2.14,.227],[1.95,.203],[1.5,.173],[1.18,.17],[.9,.172],[.63,.155],[.23,.143],[.18,.14],[.05,.09],[.01,-.01]]],
  [-5, -5, [[-1.26,-.01],[-1.2,.132],[-.86,.135],[-.86,.115],[-.7,.07],[-.68,-.01]]],
  [-7, -6.6, [[-1.16,-.01],[-1.16,.06],[-.97,.102],[-.75,.07],[-.75,-.01]]],
  [null, -7.2, [[-1.1,-.01],[-1.1,.04],[-.97,.07],[-.85,.04],[-.82,-.01]]],
  [-5, -5.2, [[-.48,-.01],[-.5,.096],[-.43,.138],[-.49,.162],[-.36,.141],[-.07,.144],[-.18,.111],[-.23,.084],[-.29,-.01]]],
  [-7, -6, [[-.27,.138],[-.1,.142],[-.16,.11],[-.25,.105]]],
  [-6, -5.9, [[2.3,-.01],[2.36,.012],[2.42,-.01]]]
];

const panelData = [
  [h2oStandard, h2oRev, h2oChai],
  [ch4Standard, ch4Rev, ch4Chai],
  [co2Standard, co2Rev, co2Chai],
  [coStandard, coRev, coChai]
];

// layout
const width = 1200, height = 1341;
const colLeft = [54.5, 446, 837.5];
const rowTop = [21.5, 354.5, 687, 1019.7];
const panelW = 274.5, panelH = 277.5;

const x = d3.scaleLog().domain([0.05, 270]).range([0, panelW]);
const y = d3.scaleLinear().domain([0, 0.4946]).range([panelH, 0]);
const color = d3.scaleSequential(d3.interpolateViridis).domain([-12, -3]);
const cbarY = d3.scaleLinear().domain([-12, -3]).range([panelH - 13.3, 13.3]);

const contourPath = d3.line()
  .x(d => x(Math.pow(10, d[0])))
  .y(d => y(d[1]))
  .curve(d3.curveCatmullRomClosed.alpha(0.5));

const svg = d3.select("#chart").append("svg").attr("width", width).attr("height", height);

const defs = svg.append("defs");
defs.append("clipPath").attr("id", "panel-clip").append("rect").attr("width", panelW).attr("height", panelH);
defs.append("filter").attr("id", "blur").attr("x", "-5%").attr("y", "-5%").attr("width", "110%").attr("height", "110%")
  .append("feGaussianBlur").attr("stdDeviation", 1.3);
defs.append("filter").attr("id", "soft").attr("x", "-50%").attr("y", "-50%").attr("width", "200%").attr("height", "200%")
  .append("feGaussianBlur").attr("stdDeviation", 3);

function drawPanel(g, layers) {
  const plot = g.append("g").attr("clip-path", "url(#panel-clip)");
  plot.append("rect").attr("width", panelW).attr("height", panelH).attr("fill", color(-12));

  const fills = plot.append("g").attr("filter", "url(#blur)");
  fills.selectAll("path").data(layers).enter().append("path")
    .attr("d", d => contourPath(d[2]))
    .attr("fill", d => color(d[1]))
    .attr("filter", d => d[0] === null ? "url(#soft)" : null);

  plot.append("g").selectAll("path").data(layers.filter(d => d[0] !== null)).enter().append("path")
    .attr("d", d => contourPath(d[2]))
    .attr("fill", "none")
    .attr("stroke", "#fff")
    .attr("stroke-width", 1.2)
    .attr("stroke-dasharray", "3.9 1.7");
}

function drawAxes(g, row, col) {
  const bottom = g.append("g").attr("transform", `translate(0,${panelH})`);
  const major = d3.axisBottom(x).tickValues(rTicks).tickSize(3.5).tickPadding(3.5).tickFormat("");
  bottom.call(major);
  bottom.append("g").call(d3.axisBottom(x).tickValues(rMinor).tickSize(2).tickFormat(""))
    .select(".domain").remove();

  if (row === molecules.length - 1) {
    bottom.selectAll(":scope > .tick text").each(function(d, i) {
      const t = d3.select(this).attr("y", 7.5).attr("dy", "1em");
      t.append("tspan").text("10");
      t.append("tspan").attr("font-size", "11px").attr("dy", "-0.6em").text(rTickExp[i]);
    });
    g.append("text").attr("x", panelW / 2).attr("y", panelH + 40.5)
      .attr("text-anchor", "middle").attr("font-size", "15.7px").text("r [au]");
  }

  const left = g.append("g");
  left.call(d3.axisLeft(y).tickValues(zTicks).tickSize(3.5).tickPadding(3.5)
    .tickFormat(col === 0 ? d3.format(".1f") : ""));
  if (col === 0) {
    g.append("text").attr("transform", `translate(-38.5,${panelH / 2}) rotate(-90)`)
      .attr("text-anchor", "middle").attr("font-size", "15.7px").text("z/r");
  }

  g.append("rect").attr("width", panelW).attr("height", panelH)
    .attr("fill", "none").attr("stroke", "#444").attr("stroke-width", 0.8);
}

function addFormula(text, parts) {
  text.append("tspan").text(parts[0]);
  if (parts[1]) text.append("tspan").attr("font-size", "0.7em").attr("font-weight", "normal").attr("dy", "0.25em").text(parts[1]);
  if (parts[2]) text.append("tspan").attr("dy", "-0.175em").text(parts[2]);
}

function drawColorbar(g, row, col) {
  const bar = g.append("g").attr("transform", `translate(${panelW + 2.7},0)`);
  const barW = 14;
  const levels = d3.range(-12, -3, 0.04);
  bar.selectAll("rect").data(levels).enter().append("rect")
    .attr("width", barW)
    .attr("y", d => cbarY(d + 0.04))
    .attr("height", d => cbarY(d) - cbarY(d + 0.04) + 1)
    .attr("shape-rendering", "crispEdges")
    .attr("fill", d => color(d));
  const top = cbarY(-3), low = cbarY(-12);
  bar.append("path").attr("d", `M0,${top}L${barW / 2},0L${barW},${top}Z`).attr("fill", color(-3));
  bar.append("path").attr("d", `M0,${low}L${barW / 2},${panelH}L${barW},${low}Z`).attr("fill", color(-12));
  bar.append("path").attr("d", `M0,${top}L${barW / 2},0L${barW},${top}V${low}L${barW / 2},${panelH}L0,${low}Z`)
    .attr("fill", "none").attr("stroke", "#444").attr("stroke-width", 0.8);

  const ticks = bar.append("g").attr("transform", `translate(${barW},0)`)
    .call(d3.axisRight(cbarY).tickValues(cbarTicks).tickSize(3.5).tickPadding(3.5)
      .tickFormat(d => d3.format(".1f")(d).replace("\u2212", "-")));
  ticks.select(".domain").remove();

  if (col === networks.length - 1) {
    const label = g.append("text")
      .attr("transform", `translate(${1194 - colLeft[col]},${panelH / 2}) rotate(-90)`)
      .attr("text-anchor", "middle").attr("font-size", "16.2px");
    label.append("tspan").text("log \u03b5(");
    addFormula(label, molecules[row]);
    label.append("tspan").attr("dy", molecules[row][1] && !molecules[row][2] ? "-0.175em" : null).text(")");
  }
}

molecules.forEach((mol, row) => {
  networks.forEach((name, col) => {
    const g = svg.append("g").attr("transform", `translate(${colLeft[col]},${rowTop[row]})`);
    drawPanel(g, panelData[row][col]);
    drawAxes(g, row, col);
    drawColorbar(g, row, col);

    if (row === 0) {
      g.append("text").attr("x", panelW / 2).attr("y", -3.6).attr("text-anchor", "middle")
        .attr("font-size", "19.2px").text(name);
    }
    if (col === 0) {
      const box = g.append("rect").attr("fill", "#ddd");
      const label = g.append("text").attr("x", 11.2).attr("y", 24.2)
        .attr("font-size", "18.6px").attr("font-weight", "bold");
      addFormula(label, mol);
      const b = label.node().getBBox();
      box.attr("x", 5.8).attr("y", 5.2).attr("width", b.width + 10.8).attr("height", 28.3);
    }
  });
});

</script>
</body>
</html>
